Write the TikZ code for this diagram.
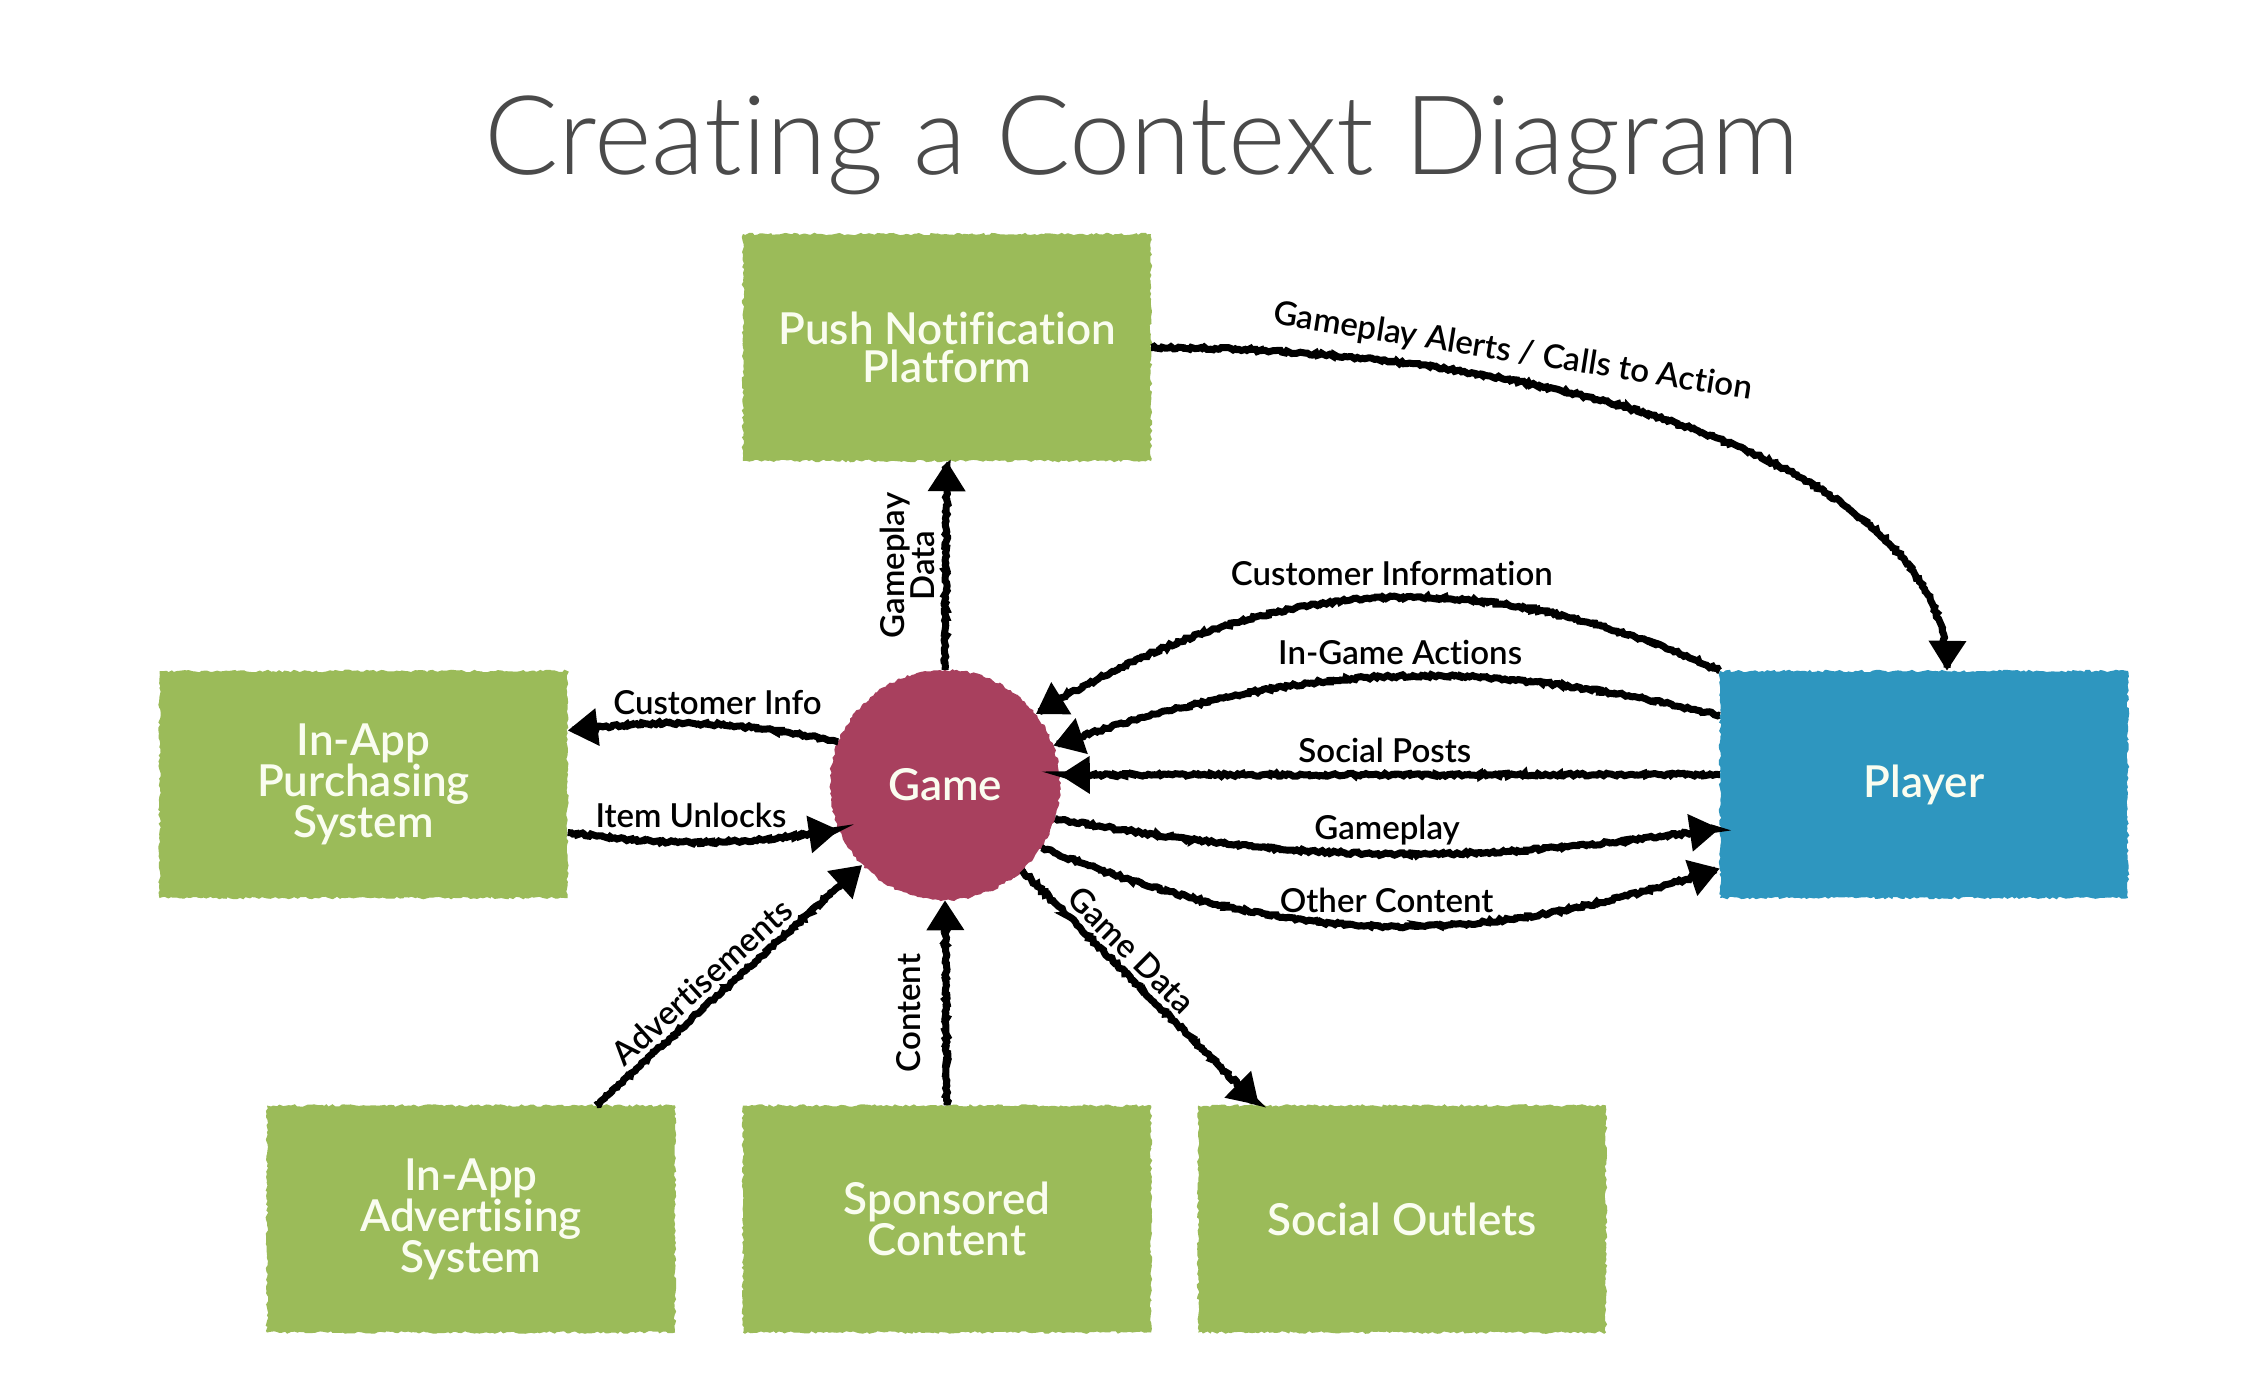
\documentclass[tikz,border=0pt]{standalone}
\usepackage{fontspec}
\setmainfont{Lato}[Ligatures=NoCommon]
\newfontfamily\titlefont{Lato Light}[Ligatures=NoCommon]
\newfontfamily\boxfont{Lato Semibold}[Ligatures=NoCommon]
\newfontfamily\lblfont{Lato Semibold}[Ligatures=NoCommon]
\usetikzlibrary{decorations.pathmorphing,arrows.meta}
\definecolor{boxgreen}{HTML}{9BBB59}
\definecolor{playerblue}{HTML}{2E96BF}
\definecolor{gamered}{HTML}{A8405E}
\definecolor{titlegray}{HTML}{4A4A4A}
\definecolor{boxtext}{HTML}{FAFDF0}
\pgfmathsetseed{7}
\begin{document}
\begin{tikzpicture}[x=1pt,y=-1pt,
  rough/.style={decorate, decoration={random steps, segment length=3pt, amplitude=1.3pt}},
  entity/.style={rectangle, rough, fill=boxgreen, minimum width=408pt, minimum height=227pt,
    inner sep=0pt, text=boxtext, align=center, font=\boxfont\fontsize{44}{38}\selectfont},
  proc/.style={circle, rough, fill=gamered, minimum size=230pt, inner sep=0pt, text=boxtext,
    font=\boxfont\fontsize{44}{38}\selectfont},
  flow/.style={line width=7pt, -{Triangle[length=30pt,width=36pt]}, decorate,
    decoration={random steps, segment length=2.5pt, amplitude=1.4pt, pre length=1pt, post length=6pt}},
  lbl/.style={font=\lblfont\fontsize{33}{33}\selectfont, text=black, inner sep=3pt},
  rlbl/.style={lbl, align=center, font=\lblfont\fontsize{33}{30}\selectfont}
]
\useasboundingbox (0,0) rectangle (2253,1376);
\fill[white] (0,0) rectangle (2253,1376);

\node[font=\titlefont\fontsize{110}{110}\selectfont, text=titlegray, anchor=base] (title) at (1142,174) {Creating a Context Diagram};

\node[entity] (push) at (947,347.5) {Push Notification\\Platform};
\node[entity] (iap) at (363.5,784.5) {In-App\\Purchasing\\System};
\node[entity, fill=playerblue] (player) at (1924,784.5) {Player};
\node[entity] (ads) at (471,1219) {In-App\\Advertising\\System};
\node[entity] (spon) at (947,1219) {Sponsored\\Content};
\node[entity] (soc) at (1402,1219) {Social Outlets};
\node[proc] (game) at (945,785) {Game};

\draw[flow] (game.north) -- node[rlbl, rotate=90, anchor=south, inner sep=8pt] (lgd) {Gameplay\\Data} (push.south);
\draw[flow] (spon.north) -- node[lbl, pos=0.45, rotate=90, anchor=south, inner sep=22pt] (lct) {Content} (game.south);
\draw[flow] ([xshift=125pt]ads.north) -- node[lbl, sloped, above=2pt, pos=0.45] (lad) {Advertisements} (game.224);
\draw[flow] (game.-48) -- node[lbl, sloped, above=2pt, pos=0.4] (lgm) {Game Data} ([xshift=-143pt]soc.north);

\draw[flow] (game.158) to[bend right=9] node[lbl, above=3pt, xshift=14pt] (lci) {Customer Info} ([yshift=54pt]iap.east);
\draw[flow] ([yshift=-48pt]iap.east) to[bend right=8] node[lbl, above=8pt, pos=0.45] (liu) {Item Unlocks} (game.203);

\draw[flow] (player.north west) to[bend right=28] node[lbl, above=6pt, xshift=20pt] (lcinf) {Customer Information} (game.38);
\draw[flow] ([yshift=69pt]player.west) to[bend right=16] node[lbl, above=5pt, xshift=16pt] (lig) {In-Game Actions} (game.20);
\draw[flow] ([yshift=10pt]player.west) -- node[lbl, above=5pt, xshift=-5pt] (lsp) {Social Posts} (game.5);
\draw[flow] (game.-17) to[bend right=9] node[lbl, above=3pt] (lgp) {Gameplay} ([yshift=-44pt]player.west);
\draw[flow] (game.-33) to[bend right=20] node[lbl, above=7pt, xshift=8pt] (loc) {Other Content} ([yshift=-84pt]player.west);

\draw[flow] (push.east) .. controls +(420,0) and +(0,-200) .. ([xshift=23pt]player.north)
  node[lbl, pos=0.3, rotate=-9, anchor=south, inner sep=9pt] (lal) {Gameplay Alerts / Calls to Action};
\end{tikzpicture}
\end{document}
